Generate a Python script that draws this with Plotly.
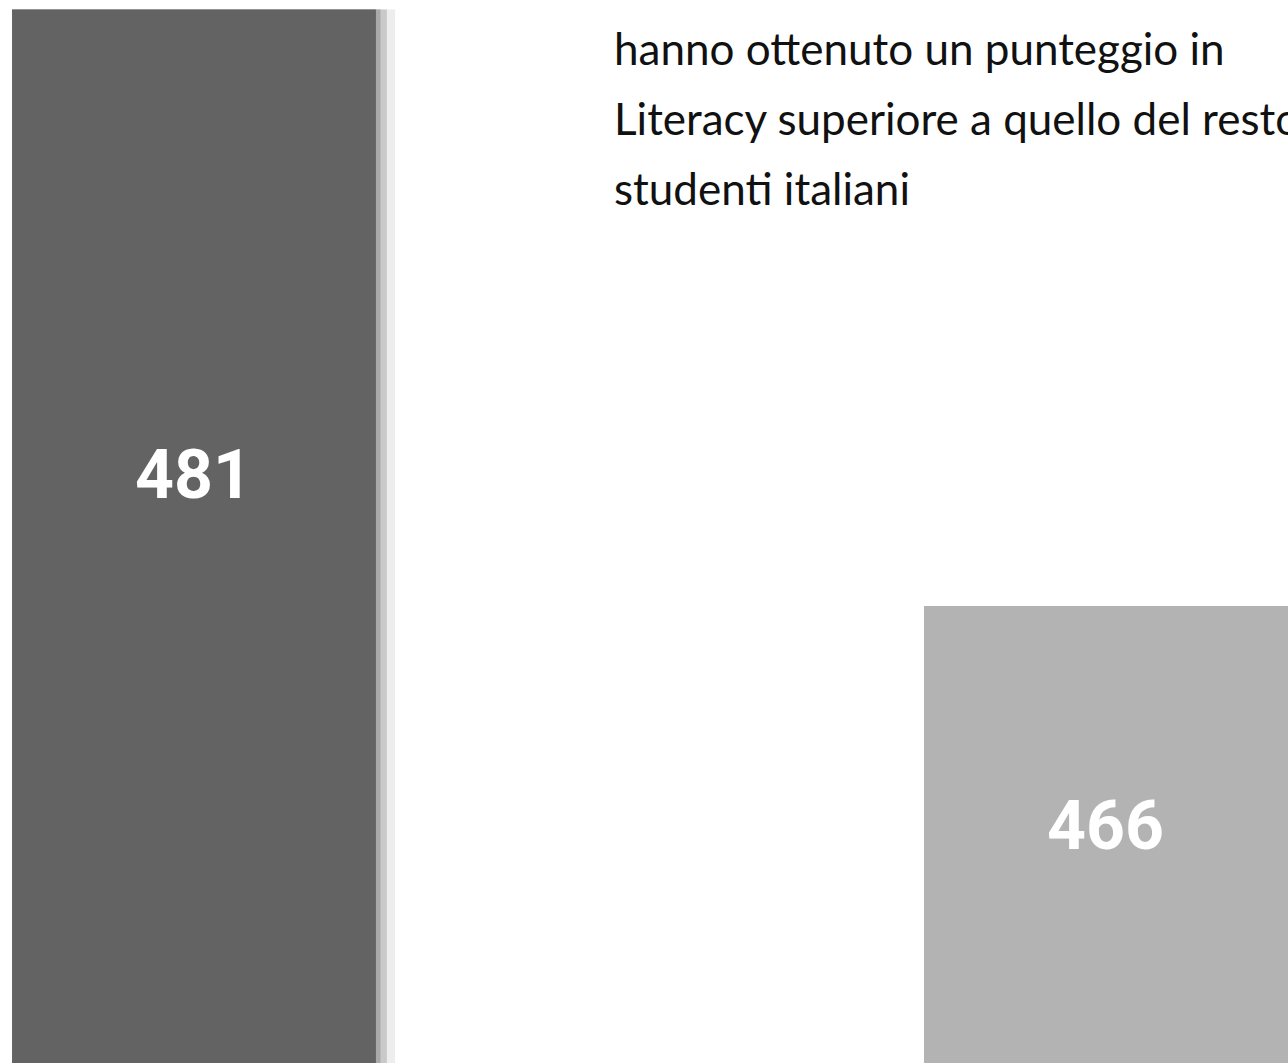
import plotly.graph_objects as go

categories = ["A", "B"]
values = [481, 466]
value_labels = ["481", "466"]
bar_colors = ["#636363", "#b3b3b3"]
text_lines = [
    "hanno ottenuto un punteggio in",
    "Literacy superiore a quello del resto degli",
    "studenti italiani",
]

W, H = 1288, 1063
# 481 top at y=9.5px, 466 top at y=606px, 39.77 px per point
y_range = [454.51, 481.24]
x_range = [-0.2127, 1.1996]
bar_w = 0.399

fig = go.Figure()
# soft shadow on the right side of the bars
fig.add_trace(go.Bar(x=[0, 1], y=values, base=0, width=bar_w + 0.021, offset=-bar_w / 2,
                     marker=dict(color="#ededed", line=dict(width=0)), hoverinfo="skip"))
fig.add_trace(go.Bar(x=[0, 1], y=values, base=0, width=bar_w + 0.012, offset=-bar_w / 2,
                     marker=dict(color="#c9c9c9", line=dict(width=0)), hoverinfo="skip"))
fig.add_trace(go.Bar(x=[0, 1], y=values, base=0, width=bar_w + 0.005, offset=-bar_w / 2,
                     marker=dict(color="#a9a9a9", line=dict(width=0)), hoverinfo="skip"))
fig.add_trace(go.Bar(x=[0, 1], y=values, base=0, width=bar_w, offset=-bar_w / 2,
                     marker=dict(color=bar_colors, line=dict(width=0)), hoverinfo="skip"))

label_centers = [474.5, 826]
for i, lab in enumerate(value_labels):
    fig.add_annotation(x=i, y=1 - label_centers[i] / H, xref="x", yref="paper",
                       text="<b>" + lab + "</b>",
                       showarrow=False, xanchor="center", yanchor="middle",
                       font=dict(family="Roboto, Liberation Sans, sans-serif",
                                 size=68, color="white"))

TS = 44
baselines = [67, 137, 207]
for line, b in zip(text_lines, baselines):
    fig.add_annotation(x=612 / W, y=1 - (b + 0.21 * TS) / H, xref="paper", yref="paper",
                       text=line, showarrow=False, xanchor="left", yanchor="bottom",
                       font=dict(family="Lato, sans-serif", size=TS, color="#111111"))

fig.update_layout(
    width=W, height=H, margin=dict(l=0, r=0, t=0, b=0),
    paper_bgcolor="white", plot_bgcolor="white", showlegend=False, barmode="overlay",
    xaxis=dict(range=x_range, visible=False, fixedrange=True),
    yaxis=dict(range=y_range, visible=False, fixedrange=True),
)
fig.write_html("out.html", config={"displayModeBar": False, "staticPlot": True},
               post_script="document.body.style.margin='0';document.body.style.overflow='hidden';")
